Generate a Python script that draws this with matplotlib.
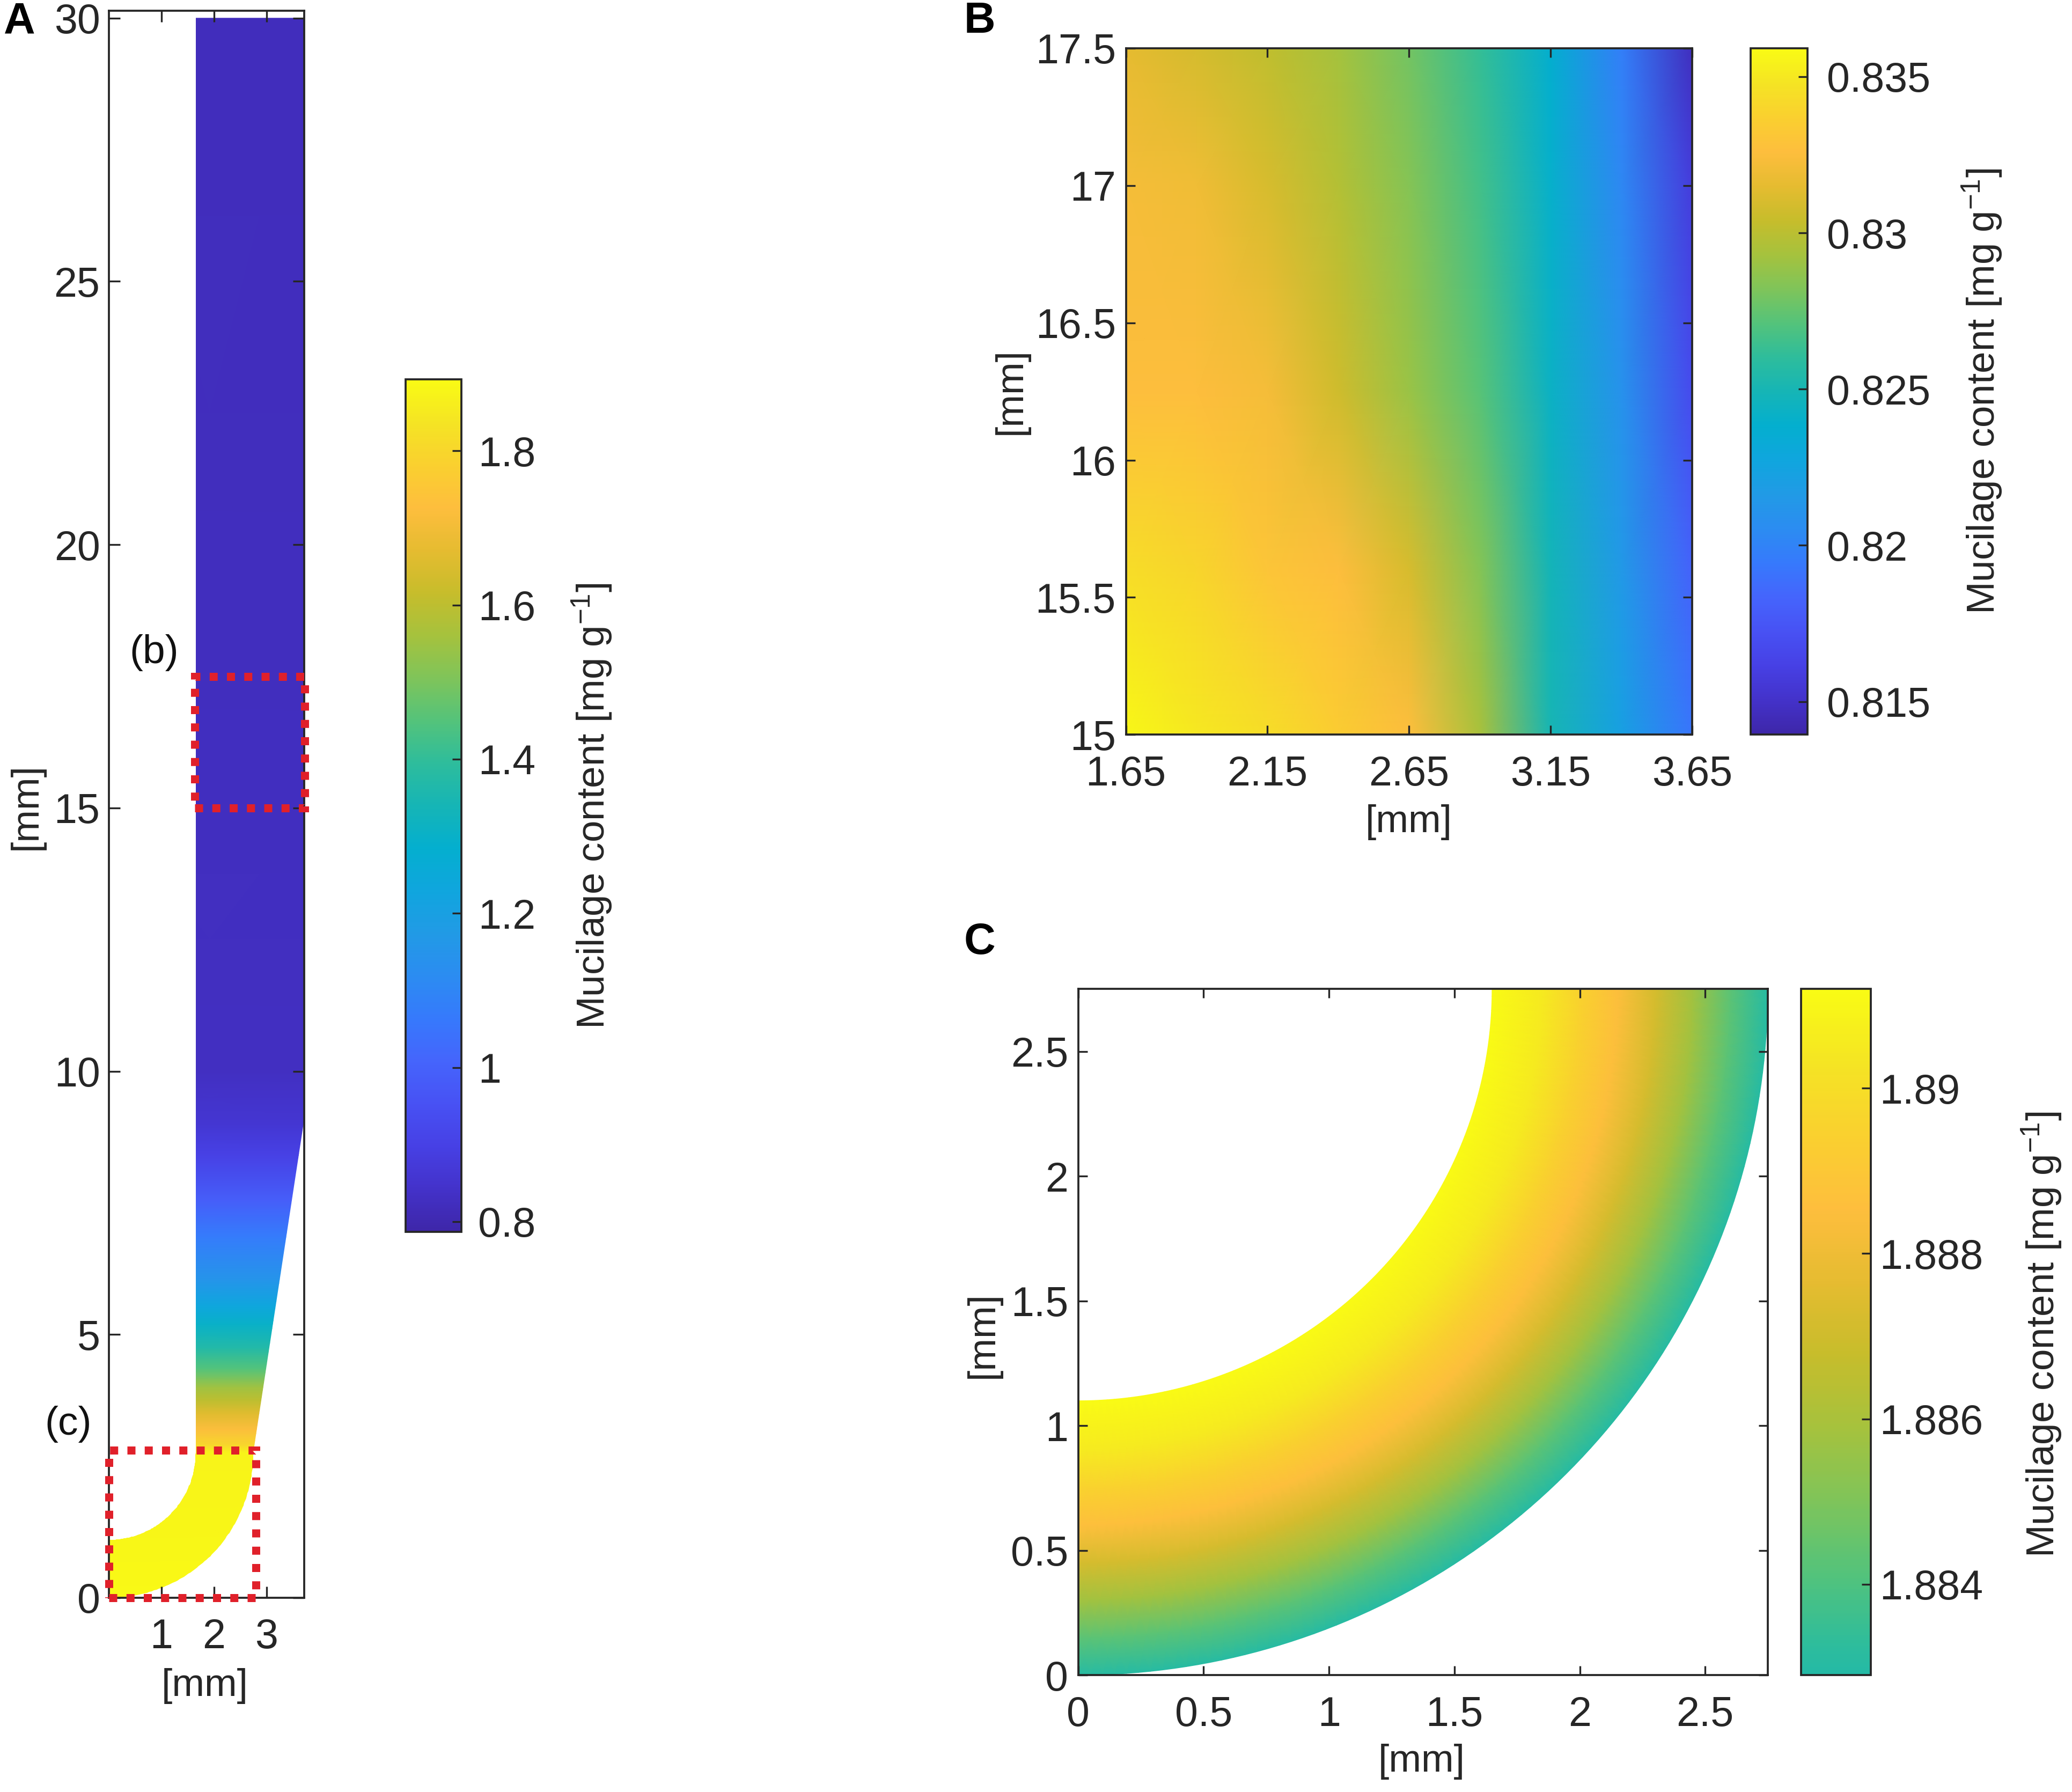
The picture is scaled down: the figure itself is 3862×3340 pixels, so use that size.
"""Mucilage content around a root tip: full root (A), zoom on the elongation
zone (B) and zoom on the root cap (C)."""

import numpy as np
import matplotlib

matplotlib.use("Agg")
import matplotlib.pyplot as plt
from matplotlib.colors import LinearSegmentedColormap, ListedColormap, Normalize
from matplotlib.patches import PathPatch, Rectangle
from matplotlib.path import Path

# ---------------------------------------------------------------- data
# Panel A: content along the root axis (height above tip, mm) -> mg g-1
A_height = [0.0, 2.75, 2.9, 3.2, 3.5, 3.75, 4.0, 4.35, 4.75, 5.2, 5.55, 6.05,
            6.85, 7.55, 8.4, 9.0, 10.0, 15.0, 30.0]
A_content = [1.888, 1.875, 1.80, 1.72, 1.66, 1.60, 1.55, 1.45, 1.37, 1.30, 1.23, 1.15,
             1.07, 0.99, 0.90, 0.86, 0.83, 0.825, 0.82]

# Panel B: content on a coarse grid (rows = height, columns = radial position)
B_x = [1.65, 1.90, 2.15, 2.40, 2.65, 2.90, 3.15, 3.40, 3.65]
B_y = [15.0, 15.6, 16.25, 17.0, 17.5]
B_content = [
    [0.8357, 0.8350, 0.8344, 0.8335, 0.8326, 0.8294, 0.8250, 0.8222, 0.8192],
    [0.8344, 0.8340, 0.8330, 0.8326, 0.8310, 0.8284, 0.8248, 0.8215, 0.8182],
    [0.8326, 0.8326, 0.8322, 0.8307, 0.8290, 0.8272, 0.8243, 0.8210, 0.8168],
    [0.8322, 0.8320, 0.8310, 0.8298, 0.8284, 0.8266, 0.8240, 0.8203, 0.8158],
    [0.8315, 0.8309, 0.8302, 0.8293, 0.8279, 0.8262, 0.8238, 0.8198, 0.8147],
]

# Panel C: content across the root cap, by distance from the cap centre (mm)
C_radius = [1.65, 1.85, 2.0, 2.15, 2.3, 2.45, 2.6, 2.75]
C_content = [1.8912, 1.8905, 1.8895, 1.8886, 1.8872, 1.8858, 1.8843, 1.8830]

# tick labels
A_xticks, A_xlabels = [1, 2, 3], ["1", "2", "3"]
A_yticks = [0, 5, 10, 15, 20, 25, 30]
A_cticks, A_clabels = [0.8, 1.0, 1.2, 1.4, 1.6, 1.8], ["0.8", "1", "1.2", "1.4", "1.6", "1.8"]
B_xticks = [1.65, 2.15, 2.65, 3.15, 3.65]
B_yticks, B_ylabels = [15, 15.5, 16, 16.5, 17, 17.5], ["15", "15.5", "16", "16.5", "17", "17.5"]
B_cticks, B_clabels = [0.815, 0.82, 0.825, 0.83, 0.835], ["0.815", "0.82", "0.825", "0.83", "0.835"]
C_ticks, C_labels = [0, 0.5, 1, 1.5, 2, 2.5], ["0", "0.5", "1", "1.5", "2", "2.5"]
C_cticks, C_clabels = [1.884, 1.886, 1.888, 1.89], ["1.884", "1.886", "1.888", "1.89"]

# ---------------------------------------------------------------- geometry
ROOT_RADIUS = 1.65      # inner edge of the mucilage layer
CAP_RADIUS = 2.75       # outer edge around the tip
TIP_CENTRE = 2.75       # height of the cap centre
TAPER_TOP = 9.1         # where the outer taper meets the right limit
A_XMAX, A_YMAX = 3.72, 30.14

# ---------------------------------------------------------------- style
PARULA_ANCHORS = [
    (0.2422, 0.1504, 0.6603), (0.2640, 0.1960, 0.7920), (0.2770, 0.2530, 0.8970),
    (0.2810, 0.3200, 0.9560), (0.2700, 0.3950, 0.9900), (0.2120, 0.4760, 0.9880),
    (0.1700, 0.5500, 0.9450), (0.1300, 0.6050, 0.9000), (0.0600, 0.6500, 0.8700),
    (0.0150, 0.6850, 0.8100), (0.0850, 0.7100, 0.7100), (0.1800, 0.7400, 0.6100),
    (0.3300, 0.7650, 0.4800), (0.5000, 0.7700, 0.3500), (0.6500, 0.7600, 0.2400),
    (0.7800, 0.7400, 0.1700), (0.9000, 0.7350, 0.1900), (0.9950, 0.7450, 0.2400),
    (0.9800, 0.8150, 0.1850), (0.9600, 0.8950, 0.1400), (0.9769, 0.9839, 0.0805),
]
parula = LinearSegmentedColormap.from_list("parula", PARULA_ANCHORS, N=512)
parula_top = ListedColormap(parula(np.linspace(0.53, 1.0, 256)), name="parula_top")

AXIS_GREY = "#262626"
BOX_RED = "#e0202a"
TICK_SIZE = 18.5
LABEL_SIZE = 17.5
CBAR_LABEL = "Mucilage content [mg g$^{-1}$]"

plt.rcParams["font.family"] = ["Liberation Sans", "DejaVu Sans"]
plt.rcParams["mathtext.default"] = "regular"

fig = plt.figure(figsize=(3862 / 300, 3340 / 300), dpi=300)


def style_axes(ax, xpad, ypad, length=4.0):
    ax.tick_params(direction="in", top=True, right=True, length=length, width=0.8,
                   colors=AXIS_GREY, labelsize=TICK_SIZE)
    ax.tick_params(axis="x", pad=xpad)
    ax.tick_params(axis="y", pad=ypad)
    for spine in ax.spines.values():
        spine.set_linewidth(0.9)
        spine.set_color(AXIS_GREY)


def add_colorbar(mappable, rect, ticks, labels, pad):
    cax = fig.add_axes(rect)
    cb = fig.colorbar(mappable, cax=cax)
    cb.set_ticks(ticks, labels=labels)
    cb.outline.set_linewidth(0.9)
    cb.outline.set_edgecolor(AXIS_GREY)
    cax.tick_params(direction="in", length=4.0, width=0.8, colors=AXIS_GREY,
                    labelsize=TICK_SIZE, pad=pad)
    return cb


def root_outline():
    t = np.radians(np.linspace(0, 90, 90))
    inner = np.column_stack([ROOT_RADIUS * np.sin(t), TIP_CENTRE - ROOT_RADIUS * np.cos(t)])
    outer = np.column_stack([CAP_RADIUS * np.sin(t), TIP_CENTRE - CAP_RADIUS * np.cos(t)])[::-1]
    side = [[ROOT_RADIUS, A_YMAX + 1], [A_XMAX + 0.1, A_YMAX + 1], [A_XMAX + 0.1, TAPER_TOP + 0.65]]
    verts = np.vstack([inner, side, outer, inner[:1]])
    return Path(verts, closed=True)


# ---------------------------------------------------------------- panel A
ax_a = fig.add_axes([0.0526, 0.1084, 0.0942, 0.8856])
norm_a = Normalize(0.787, 1.893)
xa, ya = np.meshgrid([0.0, A_XMAX + 0.1], A_height)
za = np.repeat(np.asarray(A_content)[:, None], 2, axis=1)
mesh_a = ax_a.pcolormesh(xa, ya, za, shading="gouraud", cmap=parula, norm=norm_a)
clip = PathPatch(root_outline(), transform=ax_a.transData, facecolor="none", edgecolor="none")
ax_a.add_patch(clip)
mesh_a.set_clip_path(clip)
ax_a.set_xlim(0, A_XMAX)
ax_a.set_ylim(0, A_YMAX)
ax_a.set_xticks(A_xticks, A_xlabels)
ax_a.set_yticks(A_yticks)
style_axes(ax_a, xpad=9, ypad=4, length=5)

dots = dict(fill=False, edgecolor=BOX_RED, linewidth=3.6, linestyle=(0, (1, 1.15)),
            clip_on=False, zorder=5)
ax_a.add_patch(Rectangle((1.63, 15.0), 2.1, 2.5, **dots))
ax_a.add_patch(Rectangle((0.0, 0.0), 2.8, 2.8, **dots))
ax_a.text(0.86, 17.95, "(b)", fontsize=18, color="#111111", ha="center", va="center")
ax_a.text(-0.78, 3.3, "(c)", fontsize=18, color="#111111", ha="center", va="center",
          clip_on=False)

add_colorbar(mesh_a, [0.1958, 0.3127, 0.0268, 0.4757], A_cticks, A_clabels, pad=7.5)

# ---------------------------------------------------------------- panel B
ax_b = fig.add_axes([0.5434, 0.5900, 0.2733, 0.3831])
norm_b = Normalize(0.81394, 0.83591)
mesh_b = ax_b.pcolormesh(B_x, B_y, B_content, shading="gouraud", cmap=parula, norm=norm_b)
ax_b.set_xlim(1.65, 3.65)
ax_b.set_ylim(15, 17.5)
ax_b.set_xticks(B_xticks, [f"{v:.2f}" for v in B_xticks])
ax_b.set_yticks(B_yticks, B_ylabels)
style_axes(ax_b, xpad=9, ypad=4.5)
add_colorbar(mesh_b, [0.8450, 0.5900, 0.0274, 0.3831], B_cticks, B_clabels, pad=8.5)

# ---------------------------------------------------------------- panel C
ax_c = fig.add_axes([0.5204, 0.0652, 0.3328, 0.3829])
theta = np.radians(np.linspace(0, 90, 91))
rr, tt = np.meshgrid(C_radius, theta, indexing="ij")
xc = rr * np.sin(tt)
yc = TIP_CENTRE - rr * np.cos(tt)
zc = np.repeat(np.asarray(C_content)[:, None], theta.size, axis=1)
norm_c = Normalize(1.8829, 1.8912)
mesh_c = ax_c.pcolormesh(xc, yc, zc, shading="gouraud", cmap=parula_top, norm=norm_c)
ax_c.set_xlim(0, 2.75)
ax_c.set_ylim(0, 2.75)
ax_c.set_xticks(C_ticks, C_labels)
ax_c.set_yticks(C_ticks, C_labels)
style_axes(ax_c, xpad=9, ypad=4.5)
add_colorbar(mesh_c, [0.8693, 0.0652, 0.0335, 0.3829], C_cticks, C_clabels, pad=4)

# ---------------------------------------------------------------- labels
text_kw = dict(fontsize=LABEL_SIZE, color=AXIS_GREY, ha="center", va="center")
fig.text(0.0989, 0.0590, "[mm]", **text_kw)
fig.text(0.0128, 0.5501, "[mm]", rotation=90, **text_kw)
fig.text(0.2857, 0.5501, CBAR_LABEL, rotation=90, **text_kw)
fig.text(0.6798, 0.5413, "[mm]", **text_kw)
fig.text(0.4879, 0.7817, "[mm]", rotation=90, **text_kw)
fig.text(0.9566, 0.7817, CBAR_LABEL, rotation=90, **text_kw)
fig.text(0.6862, 0.0170, "[mm]", **text_kw)
fig.text(0.4745, 0.2552, "[mm]", rotation=90, **text_kw)
fig.text(0.9853, 0.2552, CBAR_LABEL, rotation=90, **text_kw)

letter_kw = dict(fontsize=19.5, fontweight="bold", color="black", ha="center", va="center")
fig.text(0.0094, 0.9880, "A", **letter_kw)
fig.text(0.4729, 0.9880, "B", **letter_kw)
fig.text(0.4729, 0.4740, "C", **letter_kw)

fig.savefig("out.png", dpi=300, facecolor="white")
plt.close(fig)
